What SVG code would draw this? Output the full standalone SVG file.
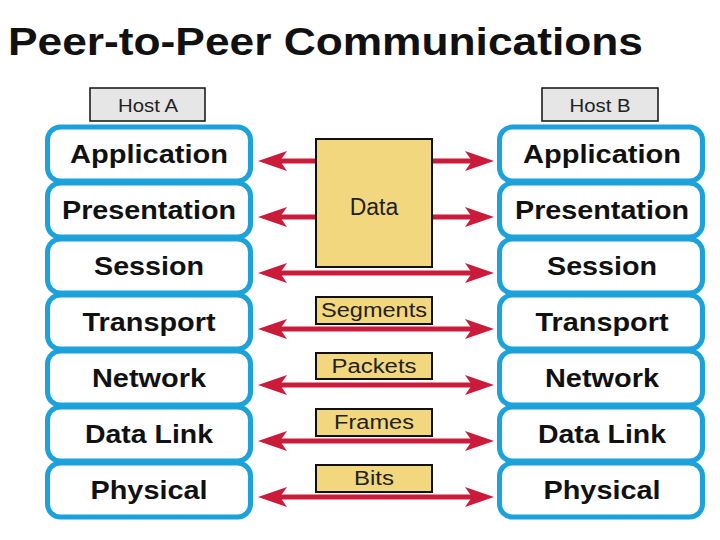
<svg xmlns="http://www.w3.org/2000/svg" width="720" height="540" viewBox="0 0 720 540">
<style>
.layer rect{fill:#ffffff;stroke:#1ca2db;stroke-width:5}
.layer text{font-family:"Liberation Sans",Arial,sans-serif;font-weight:bold;font-size:25px;fill:#111;text-anchor:middle}
.host rect{fill:#e6e6e6;stroke:#111;stroke-width:1.5}
.host text{font-family:"Liberation Sans",Arial,sans-serif;font-size:19px;fill:#222;text-anchor:middle}
.pdu rect{fill:#f3d77f;stroke:#111;stroke-width:2}
.pdu text{font-family:"Liberation Sans",Arial,sans-serif;font-size:20px;fill:#222;text-anchor:middle}
.pdu text.big{font-size:23px}
#connectors line{stroke:#cc1a3a;stroke-width:5}
</style>
<defs>
<marker id="ah" markerUnits="userSpaceOnUse" markerWidth="30" markerHeight="24" viewBox="0 -11 30 22" refX="8" refY="0" orient="auto-start-reverse">
<path d="M0,-10 L29,0 L0,10 L7,0 Z" fill="#cc1a3a"/>
</marker>
</defs>
<rect width="720" height="540" fill="#ffffff"/>
<text x="8" y="55" font-family="'Liberation Sans',Arial,sans-serif" font-weight="bold" font-size="38" fill="#111" textLength="635" lengthAdjust="spacingAndGlyphs">Peer-to-Peer Communications</text>

<g id="hostA" class="host"><rect x="90" y="88" width="115" height="33"/><text x="148" y="112" textLength="60" lengthAdjust="spacingAndGlyphs">Host A</text></g>
<g id="hostB" class="host"><rect x="542" y="88" width="116" height="33"/><text x="600" y="112" textLength="61" lengthAdjust="spacingAndGlyphs">Host B</text></g>

<g id="a-application" class="layer"><rect x="47.5" y="127" width="203" height="54" rx="13"/><text x="149" y="163" textLength="158" lengthAdjust="spacingAndGlyphs">Application</text></g>
<g id="a-presentation" class="layer"><rect x="47.5" y="183" width="203" height="54" rx="13"/><text x="149" y="219" textLength="174" lengthAdjust="spacingAndGlyphs">Presentation</text></g>
<g id="a-session" class="layer"><rect x="47.5" y="239" width="203" height="54" rx="13"/><text x="149" y="275" textLength="110" lengthAdjust="spacingAndGlyphs">Session</text></g>
<g id="a-transport" class="layer"><rect x="47.5" y="295" width="203" height="54" rx="13"/><text x="149" y="331" textLength="133" lengthAdjust="spacingAndGlyphs">Transport</text></g>
<g id="a-network" class="layer"><rect x="47.5" y="351" width="203" height="54" rx="13"/><text x="149" y="387" textLength="114" lengthAdjust="spacingAndGlyphs">Network</text></g>
<g id="a-datalink" class="layer"><rect x="47.5" y="407" width="203" height="54" rx="13"/><text x="149" y="443" textLength="128" lengthAdjust="spacingAndGlyphs">Data Link</text></g>
<g id="a-physical" class="layer"><rect x="47.5" y="463" width="203" height="54" rx="13"/><text x="149" y="499" textLength="117" lengthAdjust="spacingAndGlyphs">Physical</text></g>

<g id="b-application" class="layer"><rect x="499.5" y="127" width="203" height="54" rx="13"/><text x="602" y="163" textLength="158" lengthAdjust="spacingAndGlyphs">Application</text></g>
<g id="b-presentation" class="layer"><rect x="499.5" y="183" width="203" height="54" rx="13"/><text x="602" y="219" textLength="174" lengthAdjust="spacingAndGlyphs">Presentation</text></g>
<g id="b-session" class="layer"><rect x="499.5" y="239" width="203" height="54" rx="13"/><text x="602" y="275" textLength="110" lengthAdjust="spacingAndGlyphs">Session</text></g>
<g id="b-transport" class="layer"><rect x="499.5" y="295" width="203" height="54" rx="13"/><text x="602" y="331" textLength="133" lengthAdjust="spacingAndGlyphs">Transport</text></g>
<g id="b-network" class="layer"><rect x="499.5" y="351" width="203" height="54" rx="13"/><text x="602" y="387" textLength="114" lengthAdjust="spacingAndGlyphs">Network</text></g>
<g id="b-datalink" class="layer"><rect x="499.5" y="407" width="203" height="54" rx="13"/><text x="602" y="443" textLength="128" lengthAdjust="spacingAndGlyphs">Data Link</text></g>
<g id="b-physical" class="layer"><rect x="499.5" y="463" width="203" height="54" rx="13"/><text x="602" y="499" textLength="117" lengthAdjust="spacingAndGlyphs">Physical</text></g>

<g id="connectors">
<line x1="316" y1="161" x2="279" y2="161" marker-end="url(#ah)"/>
<line x1="432" y1="161" x2="473" y2="161" marker-end="url(#ah)"/>
<line x1="316" y1="217" x2="279" y2="217" marker-end="url(#ah)"/>
<line x1="432" y1="217" x2="473" y2="217" marker-end="url(#ah)"/>
<line x1="279" y1="273" x2="473" y2="273" marker-start="url(#ah)" marker-end="url(#ah)"/>
<line x1="279" y1="329" x2="473" y2="329" marker-start="url(#ah)" marker-end="url(#ah)"/>
<line x1="279" y1="385" x2="473" y2="385" marker-start="url(#ah)" marker-end="url(#ah)"/>
<line x1="279" y1="441" x2="473" y2="441" marker-start="url(#ah)" marker-end="url(#ah)"/>
<line x1="279" y1="497" x2="473" y2="497" marker-start="url(#ah)" marker-end="url(#ah)"/>
</g>

<g id="data" class="pdu"><rect x="316" y="139" width="116" height="128"/><text class="big" x="374" y="215">Data</text></g>
<g id="segments" class="pdu"><rect x="316" y="297" width="116" height="27"/><text x="374" y="317" textLength="106" lengthAdjust="spacingAndGlyphs">Segments</text></g>
<g id="packets" class="pdu"><rect x="316" y="353" width="116" height="26"/><text x="374" y="373" textLength="85" lengthAdjust="spacingAndGlyphs">Packets</text></g>
<g id="frames" class="pdu"><rect x="316" y="409" width="116" height="27"/><text x="374" y="429" textLength="80" lengthAdjust="spacingAndGlyphs">Frames</text></g>
<g id="bits" class="pdu"><rect x="316" y="465" width="116" height="27"/><text x="374" y="485" textLength="40" lengthAdjust="spacingAndGlyphs">Bits</text></g>
</svg>
